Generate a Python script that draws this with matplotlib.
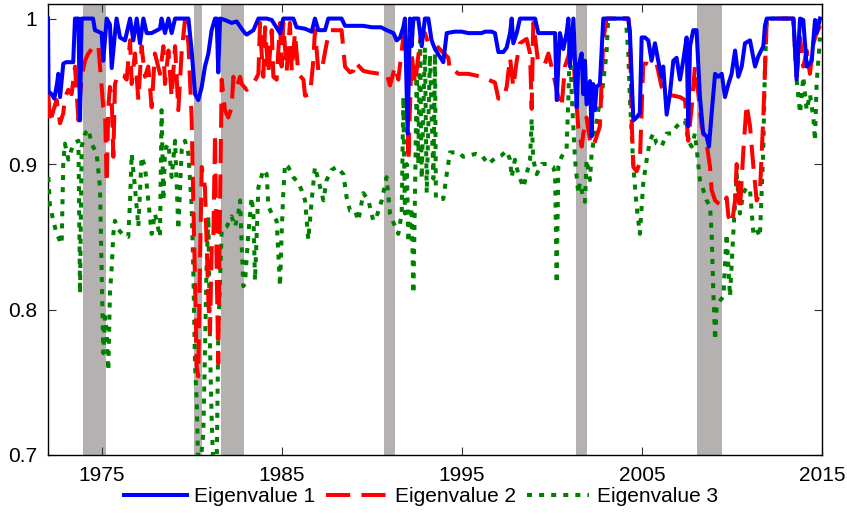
import matplotlib
matplotlib.use("Agg")
import matplotlib.pyplot as plt

plt.rcParams['font.family'] = ['Liberation Sans', 'DejaVu Sans']

# ---------------- data ----------------
e1_year = [1972.00, 1972.03, 1972.20, 1972.35, 1972.50, 1972.57, 1972.67, 1972.85, 1973.00, 1973.40,
           1973.50, 1973.69, 1973.78, 1973.87, 1974.50, 1974.61, 1974.98, 1975.07, 1975.26, 1975.44,
           1975.54, 1975.72, 1975.81, 1976.00, 1976.28, 1976.56, 1976.74, 1976.93, 1977.11, 1977.30,
           1977.48, 1977.76, 1978.22, 1978.31, 1978.50, 1978.69, 1978.87, 1979.06, 1979.80, 1979.98,
           1980.17, 1980.35, 1980.54, 1980.72, 1980.91, 1981.09, 1981.28, 1981.37, 1981.46, 1981.56,
           1981.83, 1982.20, 1982.48, 1982.76, 1982.94, 1983.04, 1983.41, 1983.69, 1984.15, 1984.43,
           1984.89, 1985.07, 1985.63, 1985.81, 1986.28, 1986.65, 1986.83, 1987.02, 1987.39, 1987.57,
           1988.31, 1988.50, 1989.50, 1990.00, 1990.50, 1990.81, 1991.19, 1991.37, 1991.56, 1991.74,
           1991.83, 1991.98, 1992.11, 1992.20, 1992.30, 1992.57, 1992.76, 1992.94, 1993.13, 1993.31,
           1993.50, 1993.96, 1994.15, 1994.61, 1994.98, 1995.35, 1996.09, 1996.28, 1996.65, 1996.83,
           1997.02, 1997.30, 1997.48, 1997.67, 1997.76, 1997.85, 1998.04, 1998.22, 1999.06, 1999.24,
           1999.61, 2000.17, 2000.26, 2000.44, 2000.63, 2000.81, 2000.91, 2001.00, 2001.19, 2001.37,
           2001.46, 2001.65, 2001.74, 2001.83, 2001.92, 2002.11, 2002.20, 2002.29, 2002.38, 2002.48,
           2002.66, 2002.85, 2003.12, 2004.24, 2004.33, 2004.52, 2004.70, 2004.88, 2004.98, 2005.16,
           2005.35, 2005.53, 2005.72, 2005.90, 2006.09, 2006.18, 2006.37, 2006.55, 2006.74, 2006.92,
           2007.11, 2007.29, 2007.48, 2007.57, 2007.67, 2007.85, 2008.03, 2008.22, 2008.40, 2008.59,
           2008.72, 2008.87, 2009.06, 2009.24, 2009.43, 2009.61, 2009.80, 2009.98, 2010.17, 2010.35,
           2010.54, 2010.72, 2011.00, 2011.28, 2011.46, 2011.74, 2011.83, 2011.93, 2013.41, 2013.59,
           2013.78, 2013.96, 2014.15, 2014.43, 2014.61, 2014.70, 2014.89]
e1_val = [1.000, 0.950, 0.948, 0.945, 0.955, 0.962, 0.946, 0.969, 0.970, 0.970,
          1.000, 1.000, 0.930, 1.000, 1.000, 0.992, 0.990, 0.971, 1.000, 0.996,
          0.966, 0.990, 1.000, 0.987, 0.985, 1.000, 0.985, 1.000, 0.983, 1.000,
          0.990, 0.990, 0.993, 1.000, 0.990, 1.000, 0.990, 1.000, 1.000, 0.978,
          0.948, 0.944, 0.953, 0.967, 0.976, 0.992, 1.000, 1.000, 0.963, 1.000,
          0.999, 0.997, 0.998, 0.993, 0.990, 0.989, 0.992, 1.000, 1.000, 0.999,
          0.990, 1.000, 1.000, 0.994, 0.993, 0.991, 1.000, 0.992, 0.992, 1.000,
          1.000, 0.995, 0.995, 0.994, 0.994, 0.992, 0.990, 0.985, 0.987, 0.994,
          1.000, 0.921, 1.000, 0.981, 1.000, 1.000, 0.981, 1.000, 1.000, 0.985,
          0.979, 0.970, 0.990, 0.991, 0.991, 0.990, 0.990, 0.991, 0.991, 0.990,
          0.977, 0.977, 0.980, 0.990, 1.000, 0.983, 0.990, 1.000, 1.000, 0.990,
          0.990, 0.990, 0.944, 0.990, 0.979, 0.990, 1.000, 0.967, 1.000, 0.939,
          0.967, 0.976, 0.948, 0.971, 0.941, 0.957, 0.919, 0.955, 0.937, 0.953,
          0.955, 1.000, 1.000, 1.000, 0.990, 0.930, 0.932, 0.935, 0.987, 0.987,
          0.985, 0.971, 0.983, 0.971, 0.960, 0.967, 0.934, 0.948, 0.971, 0.973,
          0.958, 0.971, 0.987, 0.926, 0.981, 0.992, 0.992, 0.946, 0.921, 0.919,
          0.912, 0.935, 0.962, 0.960, 0.962, 0.946, 0.955, 0.962, 0.978, 0.960,
          0.967, 0.983, 0.985, 0.967, 0.974, 0.981, 0.995, 1.000, 1.000, 0.958,
          1.000, 0.999, 0.967, 0.971, 0.999, 0.990, 1.000]

e2_year = [1972.02, 1972.11, 1972.30, 1972.48, 1972.67, 1972.85, 1972.94, 1973.13, 1973.31, 1973.50,
           1973.69, 1973.87, 1974.06, 1974.24, 1974.61, 1974.80, 1974.98, 1975.07, 1975.17, 1975.26,
           1975.35, 1975.44, 1975.54, 1975.63, 1975.72, 1975.91, 1976.19, 1976.37, 1976.56, 1976.65,
           1976.83, 1977.02, 1977.20, 1977.39, 1977.57, 1977.76, 1977.94, 1978.22, 1978.41, 1978.50,
           1978.69, 1978.87, 1979.06, 1979.24, 1979.43, 1979.61, 1979.80, 1979.98, 1980.07, 1980.17,
           1980.26, 1980.35, 1980.44, 1980.54, 1980.72, 1980.91, 1981.00, 1981.09, 1981.19, 1981.28,
           1981.37, 1981.46, 1981.56, 1981.65, 1981.83, 1982.02, 1982.20, 1982.30, 1982.48, 1982.67,
           1982.76, 1983.04, 1983.41, 1983.69, 1983.78, 1983.87, 1983.96, 1984.06, 1984.24, 1984.43,
           1984.52, 1984.70, 1984.89, 1984.98, 1985.07, 1985.26, 1985.44, 1985.54, 1985.72, 1985.91,
           1986.19, 1986.28, 1986.56, 1986.74, 1986.83, 1987.02, 1987.20, 1987.48, 1987.67, 1988.31,
           1988.50, 1988.78, 1988.96, 1989.06, 1989.52, 1989.89, 1990.44, 1990.81, 1991.00, 1991.28,
           1991.46, 1991.74, 1991.93, 1992.02, 1992.20, 1992.39, 1992.57, 1992.76, 1992.94, 1993.13,
           1993.41, 1993.60, 1994.24, 1994.33, 1994.61, 1994.80, 1995.35, 1995.72, 1996.09, 1996.46,
           1996.83, 1997.02, 1997.30, 1997.48, 1997.67, 1997.85, 1998.04, 1998.22, 1998.59, 1998.78,
           1998.87, 1998.96, 1999.06, 1999.24, 1999.61, 1999.80, 2000.07, 2000.35, 2000.53, 2000.72,
           2000.91, 2001.10, 2001.28, 2001.46, 2001.65, 2001.74, 2001.92, 2002.11, 2002.29, 2002.48,
           2002.66, 2002.85, 2003.03, 2004.24, 2004.33, 2004.42, 2004.52, 2004.70, 2004.88, 2005.07,
           2005.26, 2005.63, 2005.81, 2006.09, 2006.37, 2006.74, 2007.11, 2007.39, 2007.57, 2007.76,
           2007.94, 2008.13, 2008.31, 2008.59, 2008.78, 2008.87, 2009.06, 2009.24, 2009.52, 2009.70,
           2009.80, 2010.00, 2010.17, 2010.26, 2010.44, 2010.63, 2010.81, 2011.00, 2011.19, 2011.37,
           2011.55, 2011.74, 2011.93, 2013.41, 2013.59, 2013.78, 2013.96, 2014.15, 2014.33, 2014.52,
           2014.70, 2014.89]
e2_val = [0.948, 0.928, 0.937, 0.944, 0.928, 0.935, 0.946, 0.951, 0.948, 0.967,
          0.930, 0.960, 0.971, 0.976, 0.982, 0.981, 0.953, 0.939, 0.935, 0.887,
          0.939, 0.953, 0.944, 0.905, 0.955, 0.962, 0.961, 0.958, 0.985, 0.955,
          0.976, 0.944, 0.981, 0.960, 0.967, 0.939, 0.976, 0.962, 0.981, 0.955,
          0.978, 0.946, 0.981, 0.937, 0.978, 0.999, 0.983, 0.932, 0.875, 0.818,
          0.761, 0.754, 0.829, 0.898, 0.884, 0.806, 0.784, 0.841, 0.852, 0.921,
          0.829, 0.763, 0.875, 0.958, 0.937, 0.932, 0.939, 0.960, 0.953, 0.960,
          0.955, 0.951, 0.955, 0.962, 0.997, 0.976, 0.960, 0.994, 0.962, 0.992,
          0.960, 0.958, 0.997, 0.967, 0.997, 0.964, 0.997, 0.964, 0.990, 0.962,
          0.958, 0.947, 0.948, 0.971, 0.992, 0.964, 0.964, 0.983, 0.992, 0.992,
          0.967, 0.963, 0.964, 0.970, 0.964, 0.963, 0.962, 0.962, 0.954, 0.967,
          0.958, 0.987, 0.978, 0.902, 0.976, 0.955, 0.974, 0.992, 0.990, 0.983,
          0.981, 0.981, 0.973, 0.964, 0.964, 0.962, 0.962, 0.961, 0.960, 0.958,
          0.956, 0.945, 0.945, 0.953, 0.973, 0.953, 0.971, 0.983, 0.986, 0.976,
          0.938, 0.997, 0.987, 0.969, 0.969, 0.976, 0.962, 0.946, 0.939, 0.967,
          0.974, 0.990, 0.955, 0.925, 0.912, 0.921, 0.932, 0.916, 0.912, 0.919,
          0.926, 0.985, 1.000, 1.000, 0.990, 0.932, 0.898, 0.895, 0.901, 0.969,
          0.969, 0.967, 0.969, 0.953, 0.948, 0.947, 0.946, 0.944, 0.916, 0.939,
          0.967, 0.948, 0.926, 0.914, 0.898, 0.882, 0.875, 0.873, 0.871, 0.877,
          0.864, 0.859, 0.875, 0.900, 0.868, 0.909, 0.941, 0.926, 0.898, 0.875,
          0.880, 0.932, 1.000, 1.000, 0.960, 0.987, 0.967, 0.978, 0.962, 0.983,
          0.990, 0.995]

e3_year = [1972.02, 1972.11, 1972.30, 1972.48, 1972.76, 1972.85, 1972.94, 1973.13, 1973.41, 1973.69,
           1973.78, 1973.87, 1974.06, 1974.24, 1974.43, 1974.70, 1974.89, 1975.07, 1975.17, 1975.26,
           1975.35, 1975.44, 1975.54, 1975.63, 1975.72, 1975.91, 1976.19, 1976.46, 1976.56, 1976.65,
           1976.83, 1977.02, 1977.20, 1977.39, 1977.57, 1977.76, 1977.94, 1978.22, 1978.31, 1978.41,
           1978.50, 1978.69, 1978.87, 1979.06, 1979.24, 1979.43, 1979.61, 1979.80, 1979.98, 1980.07,
           1980.17, 1980.26, 1980.35, 1980.44, 1980.63, 1980.81, 1980.91, 1981.00, 1981.09, 1981.19,
           1981.37, 1981.46, 1981.65, 1981.93, 1982.20, 1982.39, 1982.57, 1982.67, 1982.85, 1982.94,
           1983.13, 1983.31, 1983.41, 1983.50, 1983.69, 1983.96, 1984.15, 1984.24, 1984.43, 1984.70,
           1984.89, 1984.98, 1985.07, 1985.17, 1985.35, 1985.63, 1985.91, 1986.09, 1986.28, 1986.46,
           1986.65, 1986.83, 1987.02, 1987.30, 1987.48, 1987.76, 1988.04, 1988.41, 1988.59, 1988.78,
           1989.06, 1989.24, 1989.52, 1989.80, 1990.07, 1990.26, 1990.54, 1990.81, 1991.00, 1991.28,
           1991.46, 1991.65, 1991.74, 1991.83, 1991.93, 1992.02, 1992.20, 1992.30, 1992.39, 1992.48,
           1992.57, 1992.67, 1992.76, 1992.94, 1993.04, 1993.22, 1993.41, 1993.50, 1993.55, 1993.96,
           1994.15, 1994.33, 1994.80, 1995.07, 1995.35, 1995.81, 1996.09, 1996.46, 1996.83, 1997.20,
           1997.48, 1997.67, 1997.76, 1997.94, 1998.13, 1998.41, 1998.59, 1998.78, 1998.87, 1998.96,
           1999.15, 1999.43, 1999.80, 2000.07, 2000.17, 2000.26, 2000.35, 2000.53, 2000.81, 2000.91,
           2001.00, 2001.10, 2001.28, 2001.46, 2001.55, 2001.74, 2001.83, 2001.92, 2002.11, 2002.20,
           2002.38, 2002.57, 2002.75, 2002.94, 2003.03, 2003.12, 2004.10, 2004.24, 2004.33, 2004.52,
           2004.70, 2004.88, 2005.07, 2005.26, 2005.44, 2005.63, 2005.81, 2006.09, 2006.37, 2006.65,
           2006.93, 2007.11, 2007.39, 2007.57, 2007.76, 2007.94, 2008.04, 2008.22, 2008.41, 2008.59,
           2008.78, 2008.87, 2008.96, 2009.06, 2009.15, 2009.33, 2009.52, 2009.70, 2009.89, 2010.07,
           2010.26, 2010.44, 2010.63, 2010.81, 2011.00, 2011.19, 2011.37, 2011.55, 2011.74, 2011.83,
           2011.93, 2013.41, 2013.59, 2013.78, 2013.96, 2014.15, 2014.33, 2014.52, 2014.61, 2014.70,
           2014.89]
e3_val = [0.891, 0.871, 0.861, 0.852, 0.845, 0.902, 0.914, 0.903, 0.914, 0.916,
          0.811, 0.912, 0.921, 0.924, 0.914, 0.907, 0.884, 0.770, 0.795, 0.784,
          0.758, 0.811, 0.829, 0.852, 0.861, 0.855, 0.851, 0.850, 0.875, 0.907,
          0.884, 0.857, 0.905, 0.898, 0.875, 0.852, 0.866, 0.850, 0.937, 0.875,
          0.910, 0.914, 0.891, 0.916, 0.855, 0.910, 0.916, 0.907, 0.871, 0.829,
          0.761, 0.738, 0.690, 0.690, 0.715, 0.829, 0.864, 0.775, 0.726, 0.690,
          0.690, 0.784, 0.855, 0.857, 0.864, 0.857, 0.866, 0.875, 0.816, 0.818,
          0.852, 0.877, 0.866, 0.820, 0.884, 0.896, 0.893, 0.871, 0.866, 0.861,
          0.816, 0.852, 0.880, 0.900, 0.898, 0.891, 0.887, 0.882, 0.875, 0.848,
          0.875, 0.898, 0.889, 0.875, 0.889, 0.896, 0.898, 0.893, 0.877, 0.868,
          0.868, 0.861, 0.880, 0.875, 0.861, 0.864, 0.875, 0.891, 0.866, 0.857,
          0.852, 0.866, 0.946, 0.866, 0.900, 0.846, 0.870, 0.811, 0.880, 0.960,
          0.900, 0.985, 0.890, 0.980, 0.880, 0.975, 0.890, 0.976, 0.876, 0.876,
          0.893, 0.908, 0.908, 0.905, 0.906, 0.907, 0.906, 0.900, 0.904, 0.906,
          0.909, 0.903, 0.891, 0.903, 0.893, 0.884, 0.893, 0.903, 0.931, 0.903,
          0.893, 0.900, 0.900, 0.898, 0.893, 0.818, 0.898, 0.905, 0.910, 0.946,
          0.985, 0.946, 0.903, 0.880, 0.887, 0.877, 0.874, 0.903, 0.889, 0.907,
          0.921, 0.937, 0.946, 0.966, 0.976, 1.000, 1.000, 0.976, 0.944, 0.898,
          0.871, 0.852, 0.887, 0.903, 0.916, 0.921, 0.914, 0.912, 0.921, 0.921,
          0.926, 0.928, 0.930, 0.916, 0.912, 0.921, 0.910, 0.889, 0.882, 0.875,
          0.871, 0.852, 0.813, 0.779, 0.802, 0.806, 0.809, 0.852, 0.809, 0.852,
          0.893, 0.866, 0.880, 0.884, 0.882, 0.852, 0.855, 0.850, 0.910, 0.967,
          1.000, 1.000, 0.958, 0.935, 0.960, 0.937, 0.948, 0.932, 0.916, 0.955,
          0.987]

rec_start = [1973.93, 1980.10, 1981.60, 1990.66, 2001.33, 2008.06]
rec_end = [1975.21, 1980.54, 1982.88, 1991.27, 2001.93, 2009.47]

series_names = ['Eigenvalue 1', 'Eigenvalue 2', 'Eigenvalue 3']
x_ticks = [1975, 1985, 1995, 2005, 2015]
y_ticks = [0.7, 0.8, 0.9, 1.0]
y_ticklabels = ['0.7', '0.8', '0.9', '1']

# ---------------- figure ----------------
W, H = 847, 516
fig = plt.figure(figsize=(W / 100, H / 100), dpi=100)
ax = fig.add_axes([48 / W, 1 - 455 / H, (822 - 48) / W, (455 - 4) / H])

for s, e in zip(rec_start, rec_end):
    ax.axvspan(s, e, color='#b5b1b1', lw=0, zorder=1)

lw = 2.9
l3, = ax.plot(e3_year, e3_val, color=(0, 0.5, 0), lw=lw, linestyle=(0, (1.25, 1.75)),
              dash_capstyle='butt', zorder=3)
l2, = ax.plot(e2_year, e2_val, color=(1, 0, 0), lw=lw, linestyle=(0, (6, 2.8)),
              dash_capstyle='butt', zorder=4)
l1, = ax.plot(e1_year, e1_val, color=(0, 0, 1), lw=lw, linestyle='-', zorder=5)

ax.set_xlim(1972, 2015)
ax.set_ylim(0.7, 1.01)
ax.set_xticks(x_ticks)
ax.set_xticklabels([str(t) for t in x_ticks])
ax.set_yticks(y_ticks)
ax.set_yticklabels(y_ticklabels)
ax.tick_params(direction='in', length=6, width=0.8, top=True, right=True,
               labelsize=15, pad=8, color='#333333')
for sp in ax.spines.values():
    sp.set_linewidth(1.0)
    sp.set_color('black')

fig.legend([l1, l2, l3], series_names, loc='center', bbox_to_anchor=(421 / W, 1 - 497 / H),
           ncol=3, frameon=False, fontsize=15, handlelength=3.0, handletextpad=0.35,
           columnspacing=0.5, borderpad=0.1)

fig.savefig('out.png', dpi=100)
